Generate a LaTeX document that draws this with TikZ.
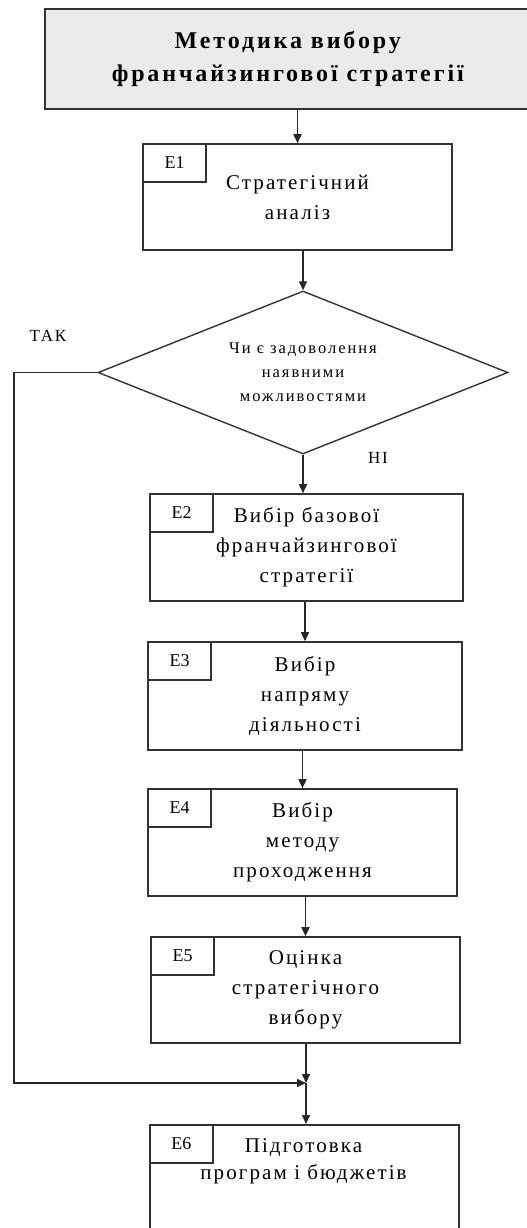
\documentclass[tikz,border=0pt]{standalone}
\usepackage{fontspec}
\setmainfont{Liberation Serif}
\newfontfamily\spfont[LetterSpace=10]{Liberation Serif}
\newfontfamily\dspfont[LetterSpace=12]{Liberation Serif}
\newfontfamily\tspfont[LetterSpace=12]{Liberation Serif}
\usetikzlibrary{shapes.geometric,arrows.meta}
\begin{document}
\begin{tikzpicture}[x=1pt,y=-1pt,
  ln/.style={draw=black!80, line width=1.6pt},
  arr/.style={draw=black!85, line width=1.6pt, -{Triangle[length=9pt,width=8pt]}},
  box/.style={ln, rectangle, inner sep=0pt, align=center, font=\spfont\fontsize{21}{30}\selectfont},
  lbl/.style={ln, rectangle, minimum width=63pt, minimum height=38pt, inner sep=0pt, anchor=north west, font=\fontsize{18}{20}\selectfont},
  txt/.style={inner sep=0pt, align=center, font=\spfont\fontsize{17}{20}\selectfont},
]
\useasboundingbox (0,0) rectangle (527,1228);
\clip (0,0) rectangle (527,1228);

\node[ln, fill=black!8, minimum width=486pt, minimum height=100pt, inner sep=0pt, anchor=north west, align=center,
  font=\tspfont\bfseries\fontsize{24}{33}\selectfont] (title) at (44,8)
  {Методика вибору\\франчайзингової стратегії};

\node[box, minimum width=309pt, minimum height=106pt] (e1) at (297.5,197) {Стратегічний\\аналіз};
\node[lbl] (e1l) at (e1.north west) {E1};

\node[ln, line width=1.4pt, diamond, minimum width=410pt, minimum height=163pt, inner sep=0pt, aspect=2.5, align=center,
  font=\dspfont\fontsize{16.5}{24}\selectfont] (dec) at (303,372.5)
  {Чи є задоволення\\наявними\\можливостями};

\node[txt] (tak) at (48,336) {ТАК};
\node[txt] (ni) at (378,458) {НІ};

\node[box, minimum width=313pt, minimum height=107pt] (e2) at (306.5,547.5) {Вибір базової\\франчайзингової\\стратегії};
\node[lbl] (e2l) at (e2.north west) {E2};

\node[box, minimum width=314pt, minimum height=108pt] (e3) at (305,696) {Вибір\\напряму\\діяльності};
\node[lbl] (e3l) at (e3.north west) {E3};

\node[box, minimum width=309pt, minimum height=107pt] (e4) at (302.5,842.5) {Вибір\\методу\\проходження};
\node[lbl] (e4l) at (e4.north west) {E4};

\node[box, minimum width=309pt, minimum height=106pt] (e5) at (305.5,990) {Оцінка\\стратегічного\\вибору};
\node[lbl] (e5l) at (e5.north west) {E5};

\node[box, minimum width=309pt, minimum height=120pt, anchor=north west] (e6) at (149,1124) {};
\node[lbl] (e6l) at (e6.north west) {E6};
\node[inner sep=0pt, align=center, font=\spfont\fontsize{21}{27}\selectfont] (e6t) at (303.5,1161) {Підготовка\\програм і бюджетів};

\coordinate (j) at (306,1083);
\coordinate (corner) at (14,1083);

\draw[arr] (title.south -| e1.north) -- (e1.north);
\draw[arr] (dec.north |- e1.south) -- (dec.north);
\draw[arr] (dec.south) -- (dec.south |- e2.north);
\draw[arr] (e3.north |- e2.south) -- (e3.north);
\draw[arr] (e4.north |- e3.south) -- (e4.north);
\draw[arr] (e5.north |- e4.south) -- (e5.north);
\draw[arr] (e5.south -| j) -- (j);
\draw[arr] (j) -- (e6.north -| j);
\draw[arr] (dec.west) -| (corner) -- (j);
\end{tikzpicture}
\end{document}
